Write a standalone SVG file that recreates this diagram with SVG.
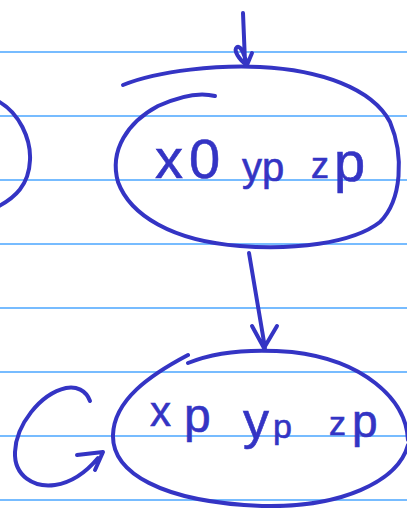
<svg xmlns="http://www.w3.org/2000/svg" width="407" height="508" viewBox="0 0 407 508">
<style>
.rule{stroke:#4aa6ff;stroke-width:1.5}
.ink{fill:none;stroke:#3434c4;stroke-width:4;stroke-linecap:round;stroke-linejoin:round}
.t{fill:#3434c4;stroke:#3434c4;stroke-width:0.6;font-family:"Liberation Sans","DejaVu Sans",sans-serif}
</style>
<rect width="407" height="508" fill="#ffffff"/>
<g id="paper">
<line class="rule" x1="0" y1="52" x2="407" y2="52"/>
<line class="rule" x1="0" y1="116" x2="407" y2="116"/>
<line class="rule" x1="0" y1="180" x2="407" y2="180"/>
<line class="rule" x1="0" y1="244" x2="407" y2="244"/>
<line class="rule" x1="0" y1="308" x2="407" y2="308"/>
<line class="rule" x1="0" y1="372" x2="407" y2="372"/>
<line class="rule" x1="0" y1="436" x2="407" y2="436"/>
<line class="rule" x1="0" y1="500" x2="407" y2="500"/>
</g>
<g id="node-left">
<path class="ink" d="M -4 100 C 20 112, 31 140, 30 160 C 29 185, 15 198, -3 207"/>
</g>
<g id="node-top">
<path class="ink" d="M 123 85 C 160 70, 220 65, 260 67 C 320 70, 372 88, 390 122 C 404 155, 402 200, 380 222 C 352 244, 292 250, 240 246 C 172 241, 130 215, 118 182 C 109 150, 128 122, 158 106 C 180 96, 200 92, 215 96"/>
<text class="t" x="155" y="178" font-size="56" letter-spacing="6">x0</text>
<text class="t" x="242" y="181" font-size="40">yp</text>
<text class="t" x="311" y="178" font-size="36">z</text>
<text class="t" x="334" y="181" font-size="56">p</text>
</g>
<g id="node-bottom">
<path class="ink" d="M 188 355 C 150 375, 114 400, 113 435 C 112 472, 160 502, 262 506 C 340 508, 398 482, 408 445 M 408 440 C 406 398, 362 360, 292 352 C 244 348, 210 354, 188 363"/>
<text class="t" x="150" y="426" font-size="42">x</text>
<text class="t" x="184" y="432" font-size="48">p</text>
<text class="t" x="243" y="438" font-size="52">y</text>
<text class="t" x="273" y="438" font-size="34">p</text>
<text class="t" x="329" y="435" font-size="34">z</text>
<text class="t" x="352" y="437" font-size="46">p</text>
</g>
<g id="connectors">
<path class="ink" d="M 243 13 L 245 62 M 247 65 C 239 60, 233 50, 237 47 C 241 45, 245 56, 247 65 L 252 53"/>
<path class="ink" d="M 249 253 L 265 348 M 252 326 L 264 348 L 277 326"/>
<path class="ink" d="M 90 401 C 86 390, 76 386, 66 388 C 40 394, 16 425, 15 452 C 14 476, 34 488, 55 485 C 75 482, 88 470, 98 458 M 77 455 L 103 452 L 95 470"/>
</g>
</svg>
